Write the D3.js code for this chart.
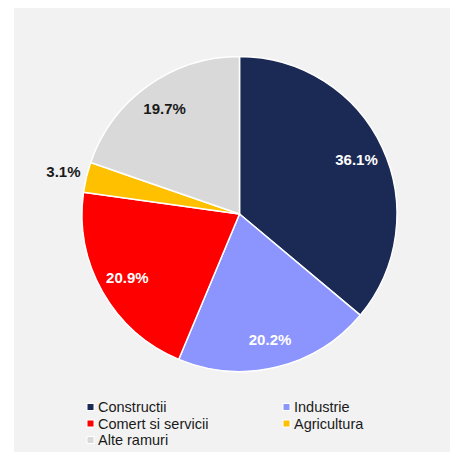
<!DOCTYPE html>
<html lang="ro">
<head>
<meta charset="utf-8">
<script src="https://d3js.org/d3.v7.min.js"></script>
<style>
body { margin: 0; background: #fff; }
svg { display: block; font-family: "Liberation Sans", Arial, sans-serif; }
</style>
</head>
<body>
<svg width="450" height="452"></svg>
<script>
var categories = ["Constructii", "Industrie", "Comert si servicii", "Agricultura", "Alte ramuri"];
var values = [36.1, 20.2, 20.9, 3.1, 19.7];
var colors = ["#1b2a55", "#8c94fd", "#ff0000", "#ffc000", "#d9d9d9"];
var labelColors = ["#fff", "#fff", "#fff", "#1a1a1a", "#1a1a1a"];

var svg = d3.select("svg");

// chart area background
svg.append("rect")
  .attr("x", 14).attr("y", 8)
  .attr("width", 436).attr("height", 444)
  .attr("fill", "#f2f2f2");

var cx = 239.5, cy = 214, r = 157.5;

var data = categories.map(function(c, i) {
  return { name: c, value: values[i], color: colors[i], label: labelColors[i] };
});

var pie = d3.pie().sort(null).value(function(d) { return d.value; });
var arc = d3.arc().innerRadius(0).outerRadius(r);
var inLabel = d3.arc().innerRadius(r * 0.82).outerRadius(r * 0.82);
var outLabel = d3.arc().innerRadius(r * 1.15).outerRadius(r * 1.15);

var g = svg.append("g").attr("transform", "translate(" + cx + "," + cy + ")");

var arcs = pie(data);

g.selectAll("path")
  .data(arcs)
  .enter().append("path")
  .attr("d", arc)
  .attr("fill", function(d) { return d.data.color; })
  .attr("stroke", "#fff")
  .attr("stroke-width", 1.5)
  .attr("stroke-linejoin", "round");

g.selectAll("text.lbl")
  .data(arcs)
  .enter().append("text")
  .attr("class", "lbl")
  .attr("transform", function(d) {
    var p = d.data.value < 5 ? outLabel.centroid(d) : inLabel.centroid(d);
    return "translate(" + p[0] + "," + p[1] + ")";
  })
  .attr("text-anchor", "middle")
  .attr("dy", "0.36em")
  .attr("font-size", "15px")
  .attr("font-weight", "bold")
  .attr("fill", function(d) { return d.data.label; })
  .text(function(d) { return d.data.value.toFixed(1) + "%"; });

// legend, two columns
var legend = svg.append("g");
var colX = [87, 283], rowY = [407, 423.5, 440];
var item = legend.selectAll("g")
  .data(data)
  .enter().append("g")
  .attr("transform", function(d, i) {
    return "translate(" + colX[i % 2] + "," + rowY[Math.floor(i / 2)] + ")";
  });
item.append("rect")
  .attr("x", 0).attr("y", -3.5)
  .attr("width", 7).attr("height", 7)
  .attr("fill", function(d) { return d.color; })
  .attr("stroke", "#fff")
  .attr("stroke-width", 1);
item.append("text")
  .attr("x", 11)
  .attr("dy", "0.36em")
  .attr("font-size", "14.5px")
  .attr("fill", "#1a1a1a")
  .text(function(d) { return d.name; });
</script>
</body>
</html>
